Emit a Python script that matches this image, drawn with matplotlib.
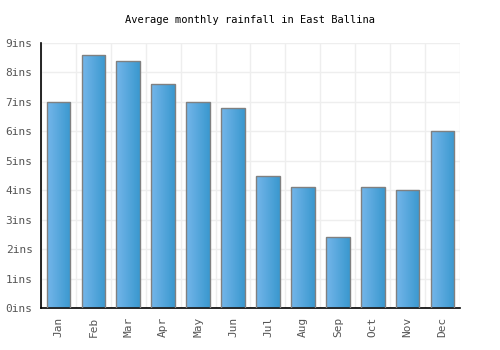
import matplotlib
matplotlib.use("Agg")
import matplotlib.pyplot as plt
import numpy as np
from matplotlib.colors import LinearSegmentedColormap

months = ["Jan", "Feb", "Mar", "Apr", "May", "Jun", "Jul", "Aug", "Sep", "Oct", "Nov", "Dec"]
rainfall = [7.0, 8.6, 8.4, 7.6, 7.0, 6.8, 4.5, 4.1, 2.4, 4.1, 4.0, 6.0]
yticks = list(range(0, 10))
ylabels = [f"{v}ins" for v in yticks]

plt.rcParams['font.family'] = ['DejaVu Sans Mono']
fig = plt.figure(figsize=(5, 3.5), dpi=100)
ax = fig.add_axes([0.082, 0.12, 0.838, 0.757])

x = np.arange(len(months))
bars = ax.bar(x, rainfall, width=0.68, color='none', edgecolor='#808080', linewidth=1.0, zorder=3)

cmap = LinearSegmentedColormap.from_list('g', ['#74b6ea', '#3a98cf'])
grad = np.linspace(0, 1, 64).reshape(1, -1)
for b in bars:
    x0, y0 = b.get_x(), b.get_y()
    w, h = b.get_width(), b.get_height()
    im = ax.imshow(grad, cmap=cmap, aspect='auto', extent=(x0, x0 + w, y0, y0 + h), zorder=2,
                   interpolation='bilinear')
    im.set_clip_path(b)

ax.set_xlim(-0.5, len(months) - 0.5)
ax.set_ylim(0, 9)
ax.set_yticks(yticks)
ax.set_yticklabels(ylabels)
ax.set_xticks(x)
ax.set_xticklabels(months, rotation=90)
ax.set_xticks(np.arange(-0.5, len(months), 1.0), minor=True)
ax.grid(True, which='minor', axis='x', color='#eeeeee', linewidth=1, zorder=0)
ax.grid(True, which='major', axis='y', color='#eeeeee', linewidth=1, zorder=0)
ax.tick_params(axis='both', which='both', length=0, labelsize=8, colors='#555555', pad=6)
ax.tick_params(axis='x', pad=6)
for s in ['top', 'right']:
    ax.spines[s].set_visible(False)
for s in ['left', 'bottom']:
    ax.spines[s].set_color('black')
    ax.spines[s].set_linewidth(1.2)

fig.text(0.5, 0.943, "Average monthly rainfall in East Ballina", ha='center', va='center',
         fontsize=7.5, color='black')

fig.savefig("out.png", dpi=100)
